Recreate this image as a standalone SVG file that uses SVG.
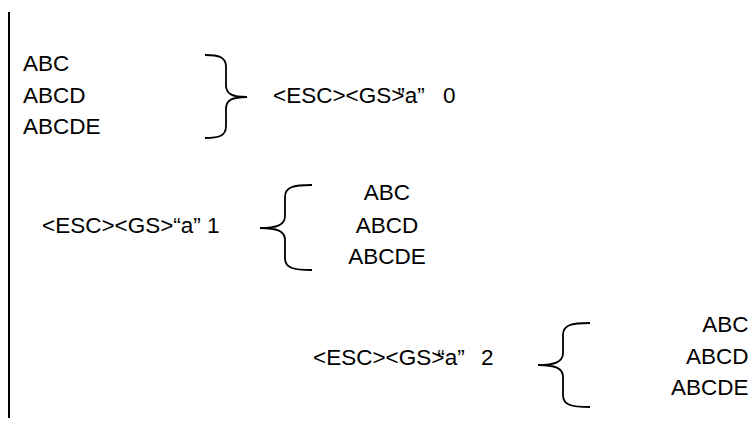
<svg xmlns="http://www.w3.org/2000/svg" width="753" height="428" viewBox="0 0 753 428">
<style>
text{font-family:"Liberation Sans",Arial,sans-serif;font-size:22.5px;fill:#000}
.b{fill:none;stroke:#000;stroke-width:1.8}
.m{text-anchor:middle}
.e{text-anchor:end}
</style>
<rect width="753" height="428" fill="#fff"/>
<g id="margin-line"><line x1="9" y1="12" x2="9" y2="418" stroke="#000" stroke-width="2"/></g>
<g id="group0-lines">
<text x="23" y="71">ABC</text>
<text x="23" y="102.5">ABCD</text>
<text x="23" y="134">ABCDE</text>
</g>
<g id="group0-cmd"><text x="273" y="102.5">&lt;ESC&gt;&lt;GS&gt;<tspan dx="-7">”a”</tspan><tspan dx="12"> 0</tspan></text></g>
<g id="group1-cmd"><text x="42" y="233">&lt;ESC&gt;&lt;GS&gt;“a” 1</text></g>
<g id="group1-lines">
<text class="m" x="387" y="200">ABC</text>
<text class="m" x="387" y="232.5">ABCD</text>
<text class="m" x="387" y="264">ABCDE</text>
</g>
<g id="group2-cmd"><text x="313" y="365">&lt;ESC&gt;&lt;GS&gt;<tspan dx="-7">“a”</tspan><tspan dx="10"> 2</tspan></text></g>
<g id="group2-lines">
<text class="e" x="748.5" y="332">ABC</text>
<text class="e" x="748.5" y="363.5">ABCD</text>
<text class="e" x="748.5" y="395">ABCDE</text>
</g>
<g id="connectors">
<path class="b" d="M205,55 C219,55 226,57 226,67 L226,85 C226,94 232,97 247,97 C232,97 226,100 226,109 L226,126 C226,136 219,138 205,138"/>
<path class="b" d="M312,185 C293,185 285,187 285,197 L285,216 C285,225 277,228 260,228 C277,228 285,231 285,240 L285,258 C285,268 293,270 312,270"/>
<path class="b" d="M590,323 C571,323 563,325 563,335 L563,353 C563,362 555,365 538,365 C555,365 563,368 563,377 L563,395 C563,405 571,407 590,407"/>
</g>
</svg>
